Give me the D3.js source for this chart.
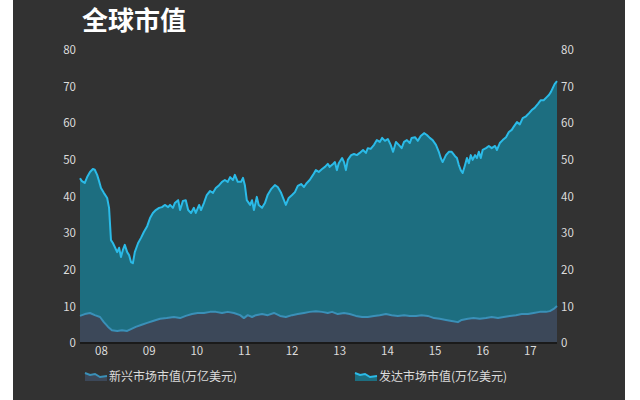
<!DOCTYPE html>
<html><head><meta charset="utf-8">
<script src="https://cdn.jsdelivr.net/npm/d3@7"></script>
<style>
html,body{margin:0;padding:0;background:#fff;}
svg{display:block;}
</style></head>
<body>
<svg id="chart" width="640" height="400"></svg>
<script>
const title = "全球市值";
const seriesNames = ["新兴市场市值(万亿美元)", "发达市场市值(万亿美元)"];
const yTicks = [0, 10, 20, 30, 40, 50, 60, 70, 80];
const xTickYears = [2008, 2009, 2010, 2011, 2012, 2013, 2014, 2015, 2016, 2017];
const xTickLabels = ["08", "09", "10", "11", "12", "13", "14", "15", "16", "17"];

// Developed markets (trillion USD)
const devYears = [2007.56,2007.60,2007.66,2007.71,2007.77,2007.83,2007.87,2007.92,2007.96,2008.00,
2008.06,2008.13,2008.17,2008.21,2008.25,2008.29,2008.34,2008.38,2008.42,2008.46,
2008.50,2008.55,2008.59,2008.63,2008.67,2008.71,2008.78,2008.84,2008.90,2008.97,
2009.03,2009.09,2009.15,2009.22,2009.28,2009.34,2009.41,2009.45,2009.51,2009.55,
2009.62,2009.66,2009.72,2009.78,2009.83,2009.89,2009.95,2009.99,2010.06,2010.10,
2010.16,2010.22,2010.29,2010.35,2010.41,2010.48,2010.54,2010.60,2010.66,2010.71,
2010.77,2010.81,2010.87,2010.94,2010.98,2011.02,2011.06,2011.13,2011.17,2011.21,
2011.27,2011.31,2011.38,2011.44,2011.50,2011.57,2011.65,2011.71,2011.78,2011.84,
2011.88,2011.94,2012.01,2012.07,2012.13,2012.20,2012.26,2012.32,2012.38,2012.45,
2012.51,2012.57,2012.64,2012.70,2012.76,2012.80,2012.87,2012.91,2012.95,2012.99,
2013.06,2013.10,2013.14,2013.18,2013.25,2013.31,2013.37,2013.43,2013.50,2013.56,
2013.60,2013.66,2013.73,2013.79,2013.85,2013.90,2013.96,2014.02,2014.08,2014.13,
2014.19,2014.25,2014.31,2014.36,2014.42,2014.48,2014.52,2014.59,2014.65,2014.71,
2014.78,2014.84,2014.90,2014.96,2015.03,2015.09,2015.13,2015.17,2015.24,2015.30,
2015.36,2015.43,2015.47,2015.51,2015.55,2015.59,2015.64,2015.68,2015.72,2015.76,
2015.80,2015.85,2015.89,2015.93,2015.97,2016.01,2016.08,2016.14,2016.20,2016.27,
2016.31,2016.37,2016.43,2016.50,2016.56,2016.62,2016.66,2016.73,2016.79,2016.85,
2016.92,2016.98,2017.04,2017.10,2017.17,2017.23,2017.29,2017.36,2017.40,2017.44,
2017.48,2017.52,2017.57];
const devValues = [45.0,44.2,43.7,45.3,46.7,47.5,47.3,45.9,44.2,42.3,
41.0,39.6,36.9,28.1,27.3,26.2,24.8,26.0,23.5,25.4,
26.8,24.8,24.0,22.1,21.8,24.8,27.3,28.7,30.3,31.9,
34.1,35.5,36.3,36.9,37.1,37.7,37.1,37.7,36.9,38.2,
39.0,36.3,38.8,39.0,36.3,35.5,36.9,35.5,37.7,36.3,
38.2,40.4,41.5,41.0,42.3,43.1,44.0,44.5,44.0,45.3,
44.5,45.9,44.0,44.0,45.1,43.1,39.0,37.7,39.0,36.3,
39.9,37.7,36.9,38.2,40.5,42.0,43.1,42.6,41.0,39.0,
37.7,39.6,40.4,41.2,42.9,43.4,42.6,43.7,44.5,45.9,
47.2,46.7,47.5,48.1,48.9,48.1,48.9,49.4,47.2,49.1,
50.5,49.4,47.2,50.0,51.3,51.6,51.3,51.9,52.7,51.9,
53.2,53.0,54.1,55.4,54.9,56.0,55.2,55.7,54.1,52.2,
54.9,54.1,53.2,54.9,55.4,54.6,56.0,56.2,55.2,56.5,
57.3,56.8,56.0,55.4,54.1,52.2,50.5,49.4,51.3,52.2,
52.2,51.0,50.5,48.6,47.2,46.4,48.6,50.5,49.1,51.3,
50.0,51.3,50.5,52.2,50.5,52.7,53.2,53.8,53.2,53.8,
52.7,54.6,55.4,56.2,57.6,58.2,59.0,60.3,59.7,61.4,
61.9,62.7,63.6,64.2,65.3,66.3,66.3,67.2,67.7,68.5,
69.6,70.7,71.5];

// Emerging markets (trillion USD)
const emYears = [2007.56,2007.66,2007.77,2007.87,2007.98,2008.06,2008.15,2008.23,2008.34,2008.44,
2008.55,2008.63,2008.73,2008.84,2008.97,2009.09,2009.24,2009.38,2009.53,2009.66,
2009.78,2009.91,2010.03,2010.16,2010.29,2010.41,2010.54,2010.66,2010.79,2010.92,
2011.00,2011.08,2011.17,2011.25,2011.38,2011.50,2011.63,2011.76,2011.88,2012.01,
2012.13,2012.26,2012.38,2012.51,2012.64,2012.76,2012.85,2012.97,2013.10,2013.22,
2013.35,2013.48,2013.60,2013.73,2013.85,2013.98,2014.10,2014.23,2014.36,2014.48,
2014.61,2014.73,2014.86,2014.99,2015.11,2015.24,2015.36,2015.49,2015.57,2015.70,
2015.82,2015.95,2016.08,2016.20,2016.33,2016.45,2016.58,2016.71,2016.83,2016.96,
2017.08,2017.21,2017.34,2017.42,2017.50,2017.57];
const emValues = [7.4,7.9,8.2,7.6,7.1,5.7,4.4,3.5,3.3,3.5,
3.3,3.8,4.4,4.9,5.5,6.0,6.6,6.8,7.1,6.8,
7.4,7.9,8.2,8.2,8.5,8.5,8.2,8.5,8.2,7.6,
6.8,7.6,7.1,7.6,7.9,7.6,8.2,7.4,7.1,7.6,
7.9,8.2,8.5,8.7,8.5,8.2,8.5,7.9,8.2,7.9,
7.4,7.1,7.1,7.4,7.6,7.9,7.6,7.4,7.6,7.4,
7.4,7.6,7.4,6.8,6.6,6.3,6.0,5.7,6.3,6.6,
6.8,6.6,6.8,7.1,6.8,7.1,7.4,7.6,7.9,7.9,
8.2,8.5,8.5,8.7,9.3,10.1];

const dev = devYears.map((t, i) => ({t, v: devValues[i]}));
const em = emYears.map((t, i) => ({t, v: emValues[i]}));

const svg = d3.select("#chart");
const W = 640, H = 400;
const m = {left: 80, right: 83, top: 50, bottom: 57};

svg.append("rect").attr("x", 13).attr("y", 0).attr("width", 612).attr("height", H).attr("fill", "#323232");

const x = d3.scaleLinear()
  .domain([d3.min(devYears), d3.max(devYears)])
  .range([m.left, W - m.right]);
const y = d3.scaleLinear().domain([0, 80]).range([H - m.bottom, m.top]);

const area = d3.area().x(d => x(d.t)).y0(y(0)).y1(d => y(d.v)).curve(d3.curveLinear);
const line = d3.line().x(d => x(d.t)).y(d => y(d.v));

svg.append("path").datum(dev).attr("d", area).attr("fill", "#1d6e80");
svg.append("path").datum(dev).attr("d", line).attr("fill", "none")
  .attr("stroke", "#2bbbe8").attr("stroke-width", 2).attr("stroke-linejoin", "round");

svg.append("path").datum(em).attr("d", area).attr("fill", "#3c4859");
svg.append("path").datum(em).attr("d", line).attr("fill", "none")
  .attr("stroke", "#3a90b8").attr("stroke-width", 2).attr("stroke-linejoin", "round");

// baseline
svg.append("line").attr("x1", m.left).attr("x2", W - m.right)
  .attr("y1", y(0)).attr("y2", y(0)).attr("stroke", "#1a1a1a").attr("stroke-width", 2);

const font = "'Noto Sans CJK SC', 'Noto Sans', sans-serif";

// y axes
const yl = svg.append("g").attr("transform", `translate(${m.left - 4},0)`)
  .call(d3.axisLeft(y).tickValues(yTicks).tickSize(0).tickPadding(0));
const yr = svg.append("g").attr("transform", `translate(${W - m.right + 4},0)`)
  .call(d3.axisRight(y).tickValues(yTicks).tickSize(0).tickPadding(0));
// x axis
const xa = svg.append("g").attr("transform", `translate(0,${y(0) + 4})`)
  .call(d3.axisBottom(x).tickValues(xTickYears).tickFormat((d, i) => xTickLabels[i]).tickSize(0).tickPadding(0));

[yl, yr, xa].forEach(g => {
  g.select(".domain").remove();
  g.selectAll("text").attr("fill", "#dcdcdc").style("font-family", font).style("font-size", "11.5px");
});

// title
svg.append("text").attr("x", 82).attr("y", 30).text(title)
  .attr("fill", "#ffffff").style("font-family", font).style("font-size", "26px").style("font-weight", "bold");

// legend
const legendItems = [
  {name: seriesNames[0], x: 85, fill: "#3c4859", stroke: "#3a90b8"},
  {name: seriesNames[1], x: 355, fill: "#1d6e80", stroke: "#2bbbe8"}
];
const lg = svg.selectAll(".lg").data(legendItems).enter().append("g")
  .attr("transform", d => `translate(${d.x},376)`);
const sym = [[0,-3],[5,-1],[10,-2],[15,1],[22,0]];
lg.append("path").attr("d", d3.area().x(p => p[0]).y0(5).y1(p => p[1])(sym)).attr("fill", d => d.fill);
lg.append("path").attr("d", d3.line().x(p => p[0]).y(p => p[1])(sym)).attr("fill", "none")
  .attr("stroke", d => d.stroke).attr("stroke-width", 2);
lg.append("text").attr("x", 24).attr("y", 5).text(d => d.name)
  .attr("fill", "#dcdcdc").style("font-family", font).style("font-size", "12px");
</script>
</body></html>
